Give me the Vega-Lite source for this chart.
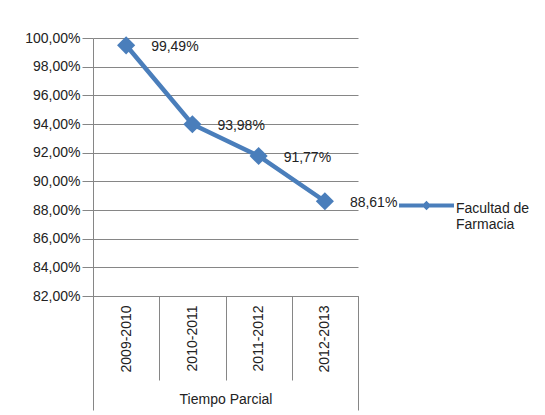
{
  "$schema": "https://vega.github.io/schema/vega-lite/v6.json",
  "width": 265,
  "height": 258,
  "autosize": {"type": "none"},
  "padding": {"left": 93, "top": 38, "right": 187, "bottom": 119},
  "background": "white",
  "config": {
    "locale": {"number": {"decimal": ",", "thousands": ".", "grouping": [3], "currency": ["", " €"]}},
    "view": {"stroke": null},
    "font": "Liberation Sans",
    "axis": {
      "labelFont": "Liberation Sans", "labelFontSize": 14, "labelColor": "#222222",
      "titleFont": "Liberation Sans", "titleFontSize": 14, "titleFontWeight": "normal", "titleColor": "#222222",
      "domainColor": "#868686", "tickColor": "#868686", "gridColor": "#868686", "gridOpacity": 1
    }
  },
  "data": {"values": [
    {"periodo": "2009-2010", "valor": 0.9949, "serie": "Facultad de Farmacia"},
    {"periodo": "2010-2011", "valor": 0.9398, "serie": "Facultad de Farmacia"},
    {"periodo": "2011-2012", "valor": 0.9177, "serie": "Facultad de Farmacia"},
    {"periodo": "2012-2013", "valor": 0.8861, "serie": "Facultad de Farmacia"}
  ]},
  "encoding": {
    "y": {
      "field": "valor", "type": "quantitative",
      "scale": {"domain": [0.82, 1.0], "zero": false, "nice": false},
      "axis": {
        "title": null, "format": ".2%",
        "values": [0.82, 0.84, 0.86, 0.88, 0.9, 0.92, 0.94, 0.96, 0.98, 1.0],
        "tickSize": 11, "labelPadding": 2, "grid": true, "labelOverlap": false, "labelFlush": false
      }
    }
  },
  "resolve": {"axis": {"x": "independent"}},
  "layer": [
    {
      "mark": {"type": "line", "strokeWidth": 4.5},
      "encoding": {
        "x": {
          "field": "periodo", "type": "ordinal",
          "scale": {"type": "band", "paddingInner": 0, "paddingOuter": 0},
          "axis": {
            "orient": "bottom", "title": "Tiempo Parcial", "labelAngle": -90, "tickBand": "extent",
            "tickSize": 84, "labelPadding": -75, "titlePadding": 12, "grid": false
          }
        },
        "color": {
          "field": "serie", "type": "nominal",
          "scale": {"range": ["#4A7EBB"]},
          "legend": {
            "title": null, "orient": "none", "legendX": 304, "legendY": 134,
            "symbolType": "M-1,0.145L1,0.145M0,0.075L0.07,0.145L0,0.215L-0.07,0.145Z",
            "symbolSize": 3025, "symbolStrokeWidth": 4, "symbolFillColor": "#4A7EBB",
            "labelFont": "Liberation Sans", "labelFontSize": 14, "labelColor": "#222222",
            "labelOffset": 0, "labelLimit": 200, "labelBaseline": "top",
            "labelExpr": "['Facultad de', 'Farmacia']"
          }
        }
      }
    },
    {
      "mark": {"type": "point", "shape": "diamond", "size": 330, "filled": true, "opacity": 1, "color": "#4A7EBB"},
      "encoding": {
        "x": {
          "field": "periodo", "type": "ordinal",
          "axis": {
            "orient": "bottom", "title": null, "labels": false, "domain": false, "grid": false,
            "values": ["2012-2013"], "bandPosition": 1, "tickSize": 114
          }
        }
      }
    },
    {
      "mark": {"type": "text", "align": "left", "baseline": "middle", "dx": 25, "dy": 2, "fontSize": 14, "font": "Liberation Sans", "color": "#222222"},
      "encoding": {
        "x": {
          "field": "periodo", "type": "ordinal",
          "axis": {
            "orient": "bottom", "title": null, "labels": false, "domain": false, "grid": false,
            "values": ["2009-2010"], "bandPosition": 0, "tickSize": 114
          }
        },
        "text": {"field": "valor", "type": "quantitative", "format": ".2%"}
      }
    }
  ]
}
